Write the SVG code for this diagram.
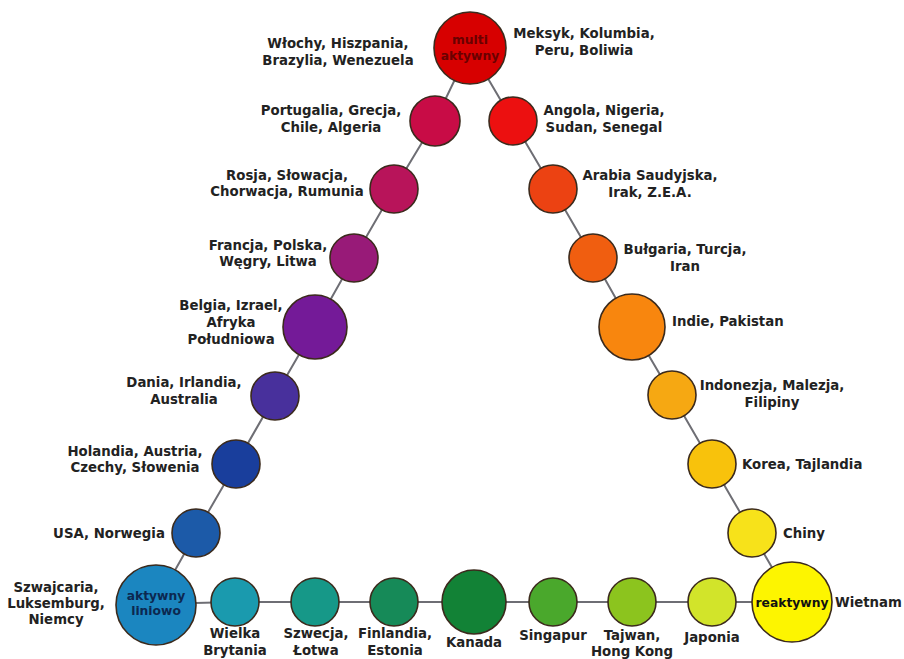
<svg xmlns="http://www.w3.org/2000/svg" width="904" height="659" viewBox="0 0 904 659">
<style>
.n{stroke:#3b2a1c;stroke-width:1.6}
.t{font-family:"DejaVu Sans","Liberation Sans",sans-serif;font-weight:bold;font-size:13.3px;fill:#222}
.m{text-anchor:middle}
.s{text-anchor:start}
.in{font-family:"DejaVu Sans","Liberation Sans",sans-serif;font-weight:bold;font-size:12.3px;text-anchor:middle}
.c{fill:none;stroke:#6e6e74;stroke-width:2}
</style>
<rect width="904" height="659" fill="#ffffff"/>
<g id="connectors">
<polyline class="c" points="470,48 435,121 394,189 354,258 315,327 275,396 236,464 196,533 156,604 235,602 315,602 394,602 474,602 553,602 632,602 712,602 792,602 752,533 712,464 672,395 632,327 593,258 553,189 513,121 470,48"/>
</g>
<g id="multi"><circle class="n" cx="470" cy="48" r="36" fill="#d70000"/><text class="in" x="470" y="44" fill="#6a0000">multi</text><text class="in" x="470" y="60" fill="#6a0000">aktywny</text></g>
<g id="wlochy"><text class="t m" x="338" y="48">Włochy, Hiszpania,</text><text class="t m" x="338" y="65">Brazylia, Wenezuela</text></g>
<g id="meksyk"><text class="t m" x="584" y="38">Meksyk, Kolumbia,</text><text class="t m" x="584" y="55">Peru, Boliwia</text></g>
<g id="portugalia"><circle class="n" cx="435" cy="121" r="25" fill="#c80c46"/><text class="t m" x="331" y="115">Portugalia, Grecja,</text><text class="t m" x="331" y="132">Chile, Algeria</text></g>
<g id="angola"><circle class="n" cx="513" cy="121" r="24" fill="#ec1010"/><text class="t m" x="604" y="115">Angola, Nigeria,</text><text class="t m" x="604" y="132">Sudan, Senegal</text></g>
<g id="rosja"><circle class="n" cx="394" cy="189" r="24" fill="#b8145a"/><text class="t m" x="287" y="180">Rosja, Słowacja,</text><text class="t m" x="287" y="196">Chorwacja, Rumunia</text></g>
<g id="francja"><circle class="n" cx="354" cy="258" r="24" fill="#981a78"/><text class="t m" x="268" y="250">Francja, Polska,</text><text class="t m" x="268" y="266">Węgry, Litwa</text></g>
<g id="belgia"><circle class="n" cx="315" cy="327" r="32" fill="#741a98"/><text class="t m" x="231" y="310">Belgia, Izrael,</text><text class="t m" x="231" y="327">Afryka</text><text class="t m" x="231" y="344">Południowa</text></g>
<g id="dania"><circle class="n" cx="275" cy="396" r="24" fill="#48309c"/><text class="t m" x="184" y="387">Dania, Irlandia,</text><text class="t m" x="184" y="404">Australia</text></g>
<g id="holandia"><circle class="n" cx="236" cy="464" r="24" fill="#193e9c"/><text class="t m" x="135" y="456">Holandia, Austria,</text><text class="t m" x="135" y="472">Czechy, Słowenia</text></g>
<g id="usa"><circle class="n" cx="196" cy="533" r="24" fill="#1c5aa8"/><text class="t m" x="109" y="538">USA, Norwegia</text></g>
<g id="aktywny"><circle class="n" cx="156" cy="605" r="40" fill="#1b86c0"/><text class="in" x="156" y="600" fill="#0c2850">aktywny</text><text class="in" x="156" y="615" fill="#0c2850">liniowo</text><text class="t m" x="56" y="592">Szwajcaria,</text><text class="t m" x="56" y="608">Luksemburg,</text><text class="t m" x="56" y="624">Niemcy</text></g>
<g id="wielka"><circle class="n" cx="235" cy="602" r="24" fill="#1a9aae"/><text class="t m" x="235" y="638">Wielka</text><text class="t m" x="235" y="655">Brytania</text></g>
<g id="szwecja"><circle class="n" cx="315" cy="602" r="24" fill="#169888"/><text class="t m" x="316" y="638">Szwecja,</text><text class="t m" x="316" y="655">Łotwa</text></g>
<g id="finlandia"><circle class="n" cx="394" cy="602" r="24" fill="#168a58"/><text class="t m" x="395" y="638">Finlandia,</text><text class="t m" x="395" y="655">Estonia</text></g>
<g id="kanada"><circle class="n" cx="474" cy="602" r="32" fill="#128236"/><text class="t m" x="474" y="647">Kanada</text></g>
<g id="singapur"><circle class="n" cx="553" cy="602" r="24" fill="#4aa82c"/><text class="t m" x="553" y="640">Singapur</text></g>
<g id="tajwan"><circle class="n" cx="632" cy="602" r="24" fill="#8cc41e"/><text class="t m" x="632" y="640">Tajwan,</text><text class="t m" x="632" y="656">Hong Kong</text></g>
<g id="japonia"><circle class="n" cx="712" cy="602" r="24" fill="#d2e42a"/><text class="t m" x="712" y="642">Japonia</text></g>
<g id="reaktywny"><circle class="n" cx="792" cy="602" r="40" fill="#fdf500"/><text class="in" x="792" y="607" fill="#111">reaktywny</text><text class="t s" x="835" y="607">Wietnam</text></g>
<g id="chiny"><circle class="n" cx="752" cy="533" r="24" fill="#f7e21a"/><text class="t s" x="783" y="538">Chiny</text></g>
<g id="korea"><circle class="n" cx="712" cy="464" r="24" fill="#f8c20c"/><text class="t s" x="742" y="469">Korea, Tajlandia</text></g>
<g id="indonezja"><circle class="n" cx="672" cy="395" r="24" fill="#f6a812"/><text class="t m" x="772" y="390">Indonezja, Malezja,</text><text class="t m" x="772" y="407">Filipiny</text></g>
<g id="indie"><circle class="n" cx="632" cy="327" r="33" fill="#f8860e"/><text class="t s" x="672" y="326">Indie, Pakistan</text></g>
<g id="bulgaria"><circle class="n" cx="593" cy="258" r="24" fill="#f05e10"/><text class="t m" x="685" y="254">Bułgaria, Turcja,</text><text class="t m" x="685" y="271">Iran</text></g>
<g id="arabia"><circle class="n" cx="553" cy="189" r="24" fill="#ec4212"/><text class="t m" x="650" y="180">Arabia Saudyjska,</text><text class="t m" x="650" y="197">Irak, Z.E.A.</text></g>
</svg>
